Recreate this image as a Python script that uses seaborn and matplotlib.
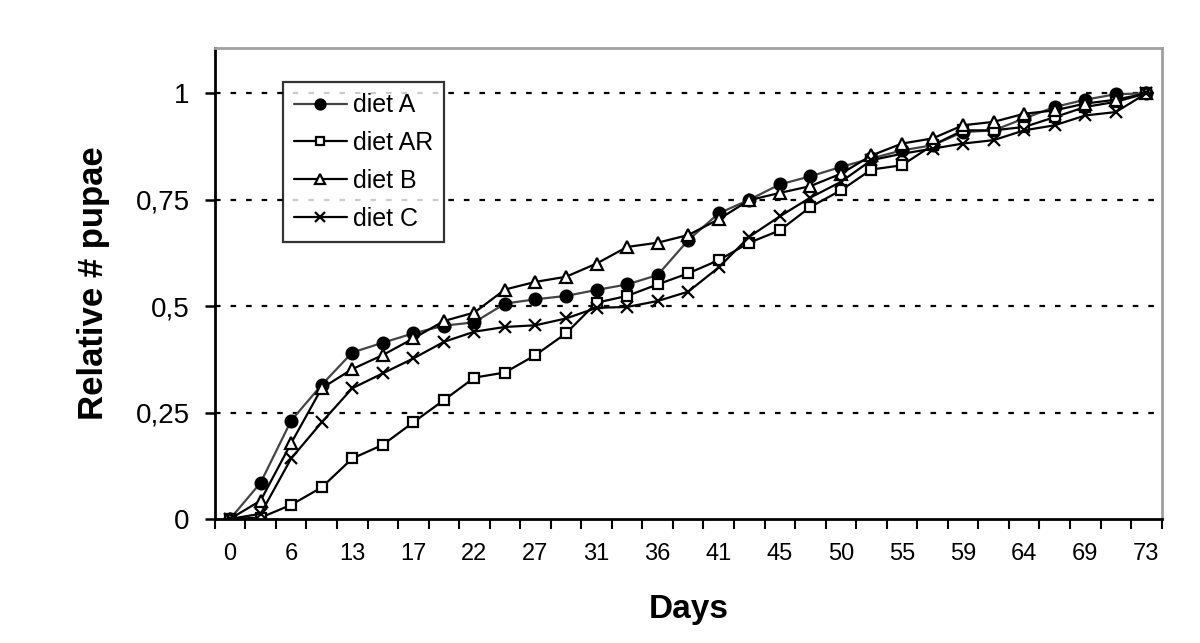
"""Relative number of pupae over time for four diets."""
import numpy as np
import matplotlib
matplotlib.use("Agg")
import matplotlib.pyplot as plt
import seaborn as sns

days = [0, 3, 6, 10, 13, 15, 17, 20, 22, 24, 27, 29, 31, 34, 36, 38,
        41, 43, 45, 48, 50, 52, 55, 57, 59, 62, 64, 66, 69, 71, 73]

diet_a = [0, 0.085, 0.231, 0.315, 0.391, 0.414, 0.436, 0.454, 0.462, 0.506,
          0.516, 0.524, 0.538, 0.551, 0.573, 0.655, 0.718, 0.750, 0.786, 0.805,
          0.827, 0.847, 0.866, 0.878, 0.909, 0.913, 0.941, 0.968, 0.985, 0.998, 1.0]
diet_ar = [0, 0.003, 0.033, 0.074, 0.142, 0.174, 0.227, 0.279, 0.332, 0.344,
           0.385, 0.436, 0.508, 0.524, 0.551, 0.577, 0.608, 0.649, 0.678, 0.733,
           0.772, 0.821, 0.831, 0.878, 0.913, 0.913, 0.921, 0.944, 0.968, 0.980, 1.0]
diet_b = [0, 0.043, 0.178, 0.307, 0.352, 0.385, 0.424, 0.465, 0.485, 0.539,
          0.557, 0.569, 0.600, 0.639, 0.649, 0.667, 0.704, 0.749, 0.766, 0.782,
          0.811, 0.854, 0.882, 0.894, 0.925, 0.933, 0.952, 0.960, 0.976, 0.985, 1.0]
diet_c = [0, 0.012, 0.142, 0.227, 0.307, 0.342, 0.377, 0.416, 0.440, 0.451,
          0.455, 0.471, 0.496, 0.498, 0.512, 0.534, 0.591, 0.663, 0.711, 0.755,
          0.792, 0.843, 0.858, 0.870, 0.882, 0.890, 0.913, 0.925, 0.948, 0.956, 1.0]

y_ticks = [0, 0.25, 0.5, 0.75, 1]
y_tick_labels = ["0", "0,25", "0,5", "0,75", "1"]

sns.set_style("white")
plt.rcParams["font.family"] = ["Liberation Sans", "DejaVu Sans"]
for key in ["text.color", "axes.labelcolor", "xtick.color", "ytick.color"]:
    plt.rcParams[key] = "black"

fig = plt.figure(figsize=(12, 6.43), dpi=100)
ax = fig.add_axes([0.179, 0.193, 0.789, 0.732])

pos = np.arange(len(days))
# name, values, marker, face colour, line colour, marker size
styles = [
    ("diet A", diet_a, "o", "black", "#444444", 8.5),
    ("diet AR", diet_ar, "s", "white", "black", 7.5),
    ("diet B", diet_b, "^", "white", "black", 9),
    ("diet C", diet_c, "x", "black", "black", 9),
]
for name, vals, mk, face, lc, ms in styles:
    sns.lineplot(x=pos, y=vals, ax=ax, label=name, color=lc, linewidth=1.6,
                 marker=mk, markersize=ms, markerfacecolor=face,
                 markeredgecolor="black", markeredgewidth=1.6)

ax.set_xlim(-0.5, len(days) - 0.5)
ax.set_ylim(0, 1.106)

# dotted gridlines
for yv in y_ticks[1:]:
    ax.axhline(yv, color="black", linestyle=(0, (2.5, 4.5)), linewidth=1.6, zorder=0)

ax.set_yticks(y_ticks)
ax.set_yticklabels(y_tick_labels, fontsize=20)
ax.tick_params(axis="y", direction="out", length=7, width=1.8, left=True, pad=11)

ax.set_xticks(pos[::2])
ax.set_xticklabels([str(d) for d in days[::2]], fontsize=17)
ax.tick_params(axis="x", which="major", length=0, pad=17)
ax.set_xticks(np.arange(-0.5, len(days)), minor=True)
ax.tick_params(axis="x", which="minor", direction="out", length=7, width=1.5, bottom=True)

for side in ["left", "bottom"]:
    ax.spines[side].set_color("black")
    ax.spines[side].set_linewidth(2)
for side in ["top", "right"]:
    ax.spines[side].set_color("#a0a0a0")
    ax.spines[side].set_linewidth(2)

ax.set_ylabel("Relative # pupae", fontsize=25, fontweight="bold")
ax.yaxis.set_label_coords(-0.111, 0.5)
ax.set_xlabel("Days", fontsize=24, fontweight="bold")
ax.xaxis.set_label_coords(0.5005, -0.16)

leg = ax.legend(loc="upper left", bbox_to_anchor=(0.072, 0.928), borderaxespad=0,
                fontsize=18, frameon=True, fancybox=False, handlelength=2.1,
                handletextpad=0.25, labelspacing=0.55, borderpad=0.45,
                markerscale=0.85)
leg.get_frame().set_edgecolor("black")
leg.get_frame().set_linewidth(1.6)

fig.savefig("out.png", dpi=100)
